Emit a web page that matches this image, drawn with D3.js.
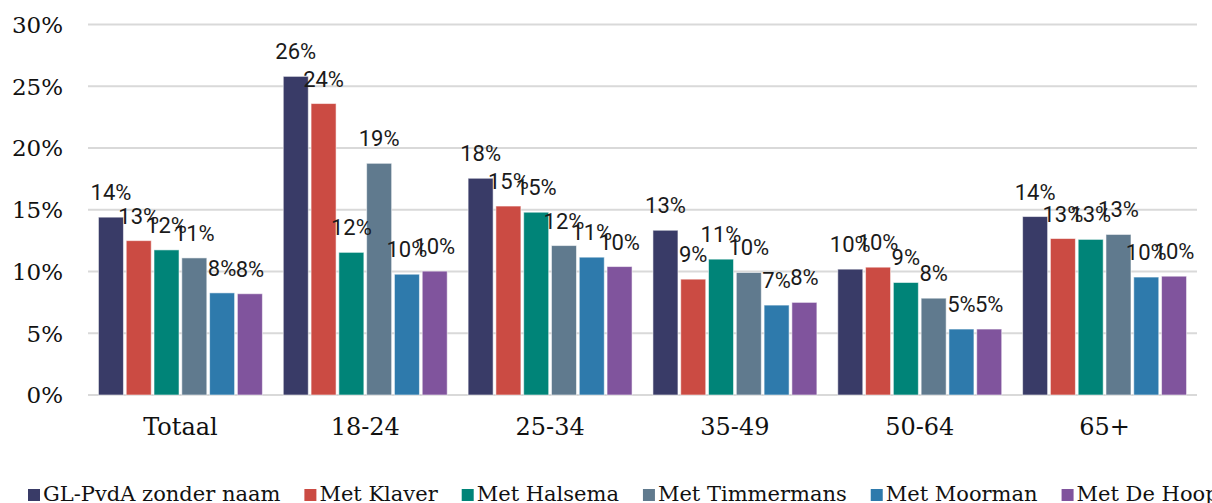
<!DOCTYPE html>
<html><head><meta charset="utf-8">
<script src="https://cdn.jsdelivr.net/npm/d3@7"></script>
<style>html,body{margin:0;padding:0;background:#fff;}</style>
</head><body>
<svg id="chart" width="1212" height="503"></svg>
<script>
const categories = ["Totaal", "18-24", "25-34", "35-49", "50-64", "65+"];
const seriesNames = ["GL-PvdA zonder naam", "Met Klaver", "Met Halsema", "Met Timmermans", "Met Moorman", "Met De Hoop"];
const seriesColors = ["#393B67", "#CB4B43", "#008478", "#607A8E", "#2E7AAC", "#80549D"];
const glpvdaZonderNaam = [0.144, 0.258, 0.1755, 0.1334, 0.1019, 0.1445];
const metKlaver        = [0.125, 0.236, 0.153, 0.0938, 0.1035, 0.1267];
const metHalsema       = [0.1175, 0.1155, 0.148, 0.110, 0.0911, 0.126];
const metTimmermans    = [0.111, 0.1876, 0.121, 0.0992, 0.0784, 0.130];
const metMoorman       = [0.0827, 0.0978, 0.1116, 0.0728, 0.0534, 0.0955];
const metDeHoop        = [0.082, 0.1003, 0.104, 0.075, 0.0534, 0.0962];
const seriesValues = [glpvdaZonderNaam, metKlaver, metHalsema, metTimmermans, metMoorman, metDeHoop];
const yTicks = [0, 0.05, 0.10, 0.15, 0.20, 0.25, 0.30];

const svg = d3.select("#chart");
const x0 = d3.scaleBand().domain(categories).range([88, 1197]).paddingInner(0.113).paddingOuter(0.0565);
const x1 = d3.scaleBand().domain(seriesNames).range([0, x0.bandwidth()]).paddingInner(0.1).paddingOuter(0);
const y = d3.scaleLinear().domain([0, 0.30]).range([395, 24.5]);
const color = d3.scaleOrdinal().domain(seriesNames).range(seriesColors);
const pct = d3.format(".0%");

// gridlines
svg.append("g").selectAll("line").data(yTicks).join("line")
  .attr("x1", 88).attr("x2", 1197)
  .attr("y1", d => y(d)).attr("y2", d => y(d))
  .attr("stroke", "#d9d9d9").attr("stroke-width", 2);

// y tick labels
svg.append("g").selectAll("text").data(yTicks).join("text")
  .attr("x", 63).attr("y", d => y(d)).attr("dy", "0.36em")
  .attr("text-anchor", "end")
  .style("font-family", "'DejaVu Serif', serif").style("font-size", "23px").style("fill", "#111")
  .text(d => pct(d));

// bars
const rows = [];
categories.forEach((c, ci) => seriesNames.forEach((s, si) => rows.push({c, s, v: seriesValues[si][ci]})));

const g = svg.append("g");
g.selectAll("rect").data(rows).join("rect")
  .attr("x", d => x0(d.c) + x1(d.s))
  .attr("y", d => y(d.v))
  .attr("width", x1.bandwidth())
  .attr("height", d => y(0) - y(d.v))
  .attr("fill", d => color(d.s))
  .attr("stroke", "#ffffff").attr("stroke-opacity", 0.55).attr("stroke-width", 1);

g.selectAll("text").data(rows).join("text")
  .attr("x", d => x0(d.c) + x1(d.s) + x1.bandwidth() / 2)
  .attr("y", d => y(d.v) - 17)
  .attr("text-anchor", "middle")
  .style("font-family", "Roboto, sans-serif").style("font-size", "22px").style("fill", "#1a1a1a")
  .text(d => pct(d.v));

// x labels
svg.append("g").selectAll("text").data(categories).join("text")
  .attr("x", d => x0(d) + x0.bandwidth() / 2).attr("y", 435)
  .attr("text-anchor", "middle")
  .style("font-family", "'DejaVu Serif', serif").style("font-size", "24px").style("fill", "#111")
  .text(d => d);

// legend
const leg = svg.append("g");
let lx = 28;
seriesNames.forEach((s, i) => {
  leg.append("rect").attr("x", lx).attr("y", 489).attr("width", 12).attr("height", 12).attr("fill", color(s));
  const t = leg.append("text").attr("x", lx + 15).attr("y", 501)
    .style("font-family", "'DejaVu Serif', serif").style("font-size", "21px").style("fill", "#111")
    .text(s);
  lx += 15 + t.node().getComputedTextLength() + 24;
});
</script>
</body></html>
